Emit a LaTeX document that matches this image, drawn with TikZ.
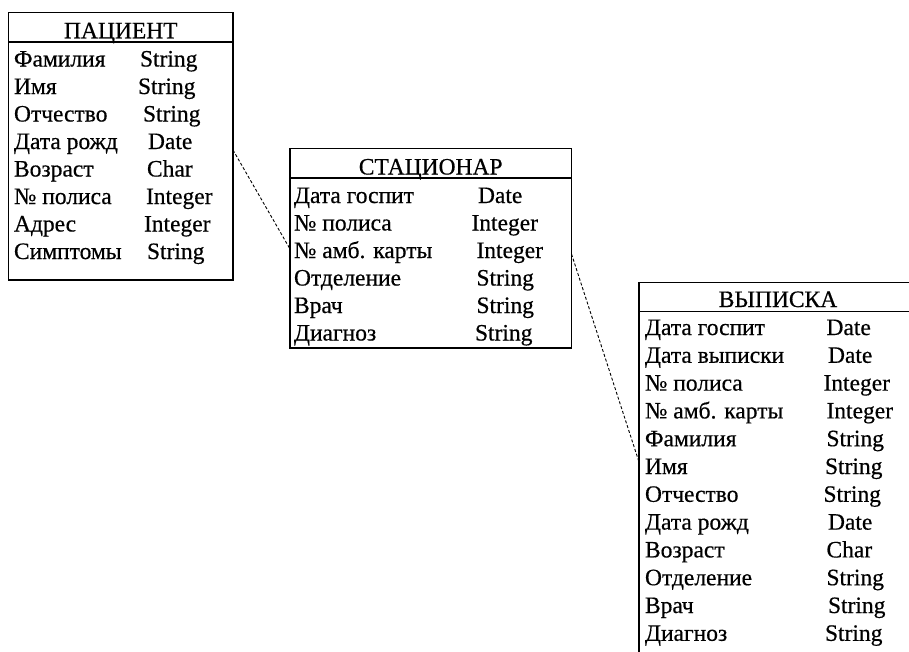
\documentclass[tikz,border=0pt]{standalone}
\usepackage{fontspec}
\setmainfont{Liberation Serif}
\newfontfamily\tablefont{Liberation Serif}[FakeBold=0.5]
\begin{document}
\begin{tikzpicture}[x=1pt,y=-1pt,
  tablebox/.style={draw, line width=1.6pt, anchor=north west, inner sep=0pt, outer sep=0pt},
  rule/.style={line width=1.6pt},
  cell/.style={anchor=base west, inner sep=0pt, outer sep=0pt, font=\tablefont\fontsize{23.5}{27}\selectfont},
  heading/.style={anchor=base, inner sep=0pt, outer sep=0pt, font=\tablefont\fontsize{23.5}{27}\selectfont},
  link/.style={line width=0.9pt, dash pattern=on 3pt off 2pt}]
\useasboundingbox (0,0) rectangle (909,651);
\clip (0,0) rectangle (909,651);

% ---- ПАЦИЕНТ ----
\node[tablebox, minimum width=224.5pt, minimum height=267.5pt] (p) at (8.5,12.5) {};
\draw[rule] (p.west |- 0,42) -- (p.east |- 0,42);
\node[heading] (p-h) at (120.8,38.3) {ПАЦИЕНТ};
\foreach \n/\ty/\tx [count=\i] in {Фамилия/String/140, Имя/String/138, Отчество/String/143,
    Дата рожд/Date/148, Возраст/Char/147, № полиса/Integer/146, Адрес/Integer/144, Симптомы/String/147}{
  \node[cell] (p-n\i) at (14,{66.5+27.5*(\i-1)}) {\n};
  \node[cell] (p-t\i) at (\tx,{66.5+27.5*(\i-1)}) {\ty};
}

% ---- СТАЦИОНАР ----
\node[tablebox, minimum width=281.5pt, minimum height=199.5pt] (s) at (290,148.5) {};
\draw[rule] (s.west |- 0,178) -- (s.east |- 0,178);
\node[heading] (s-h) at (430.7,174.5) {СТАЦИОНАР};
\foreach \n/\ty/\tx [count=\i] in {Дата госпит/Date/478, № полиса/Integer/471.5, № амб. карты/Integer/476.5,
    Отделение/String/476.5, Врач/String/476.5, Диагноз/String/475}{
  \node[cell] (s-n\i) at (294,{203+27.5*(\i-1)}) {\n};
  \node[cell] (s-t\i) at (\tx,{203+27.5*(\i-1)}) {\ty};
}

% ---- ВЫПИСКА ----
\node[tablebox, minimum width=278pt, minimum height=400pt] (v) at (639,282.5) {};
\draw[rule] (v.west |- 0,311.5) -- (v.east |- 0,311.5);
\node[heading] (v-h) at (778,307) {ВЫПИСКА};
\foreach \n/\ty/\tx [count=\i] in {Дата госпит/Date/826.5, Дата выписки/Date/828, № полиса/Integer/823.5,
    № амб. карты/Integer/826.5, Фамилия/String/826.5, Имя/String/825, Отчество/String/823.5,
    Дата рожд/Date/828, Возраст/Char/826.5, Отделение/String/826.5, Врач/String/828, Диагноз/String/825}{
  \node[cell] (v-n\i) at (645,{335+27.8*(\i-1)}) {\n};
  \node[cell] (v-t\i) at (\tx,{335+27.8*(\i-1)}) {\ty};
}

% ---- связи ----
\draw[link] (p.east |- 0,150) -- (s.west |- 0,249);
\draw[link] (s.east |- 0,254) -- (v.west |- 0,462);
\end{tikzpicture}
\end{document}
